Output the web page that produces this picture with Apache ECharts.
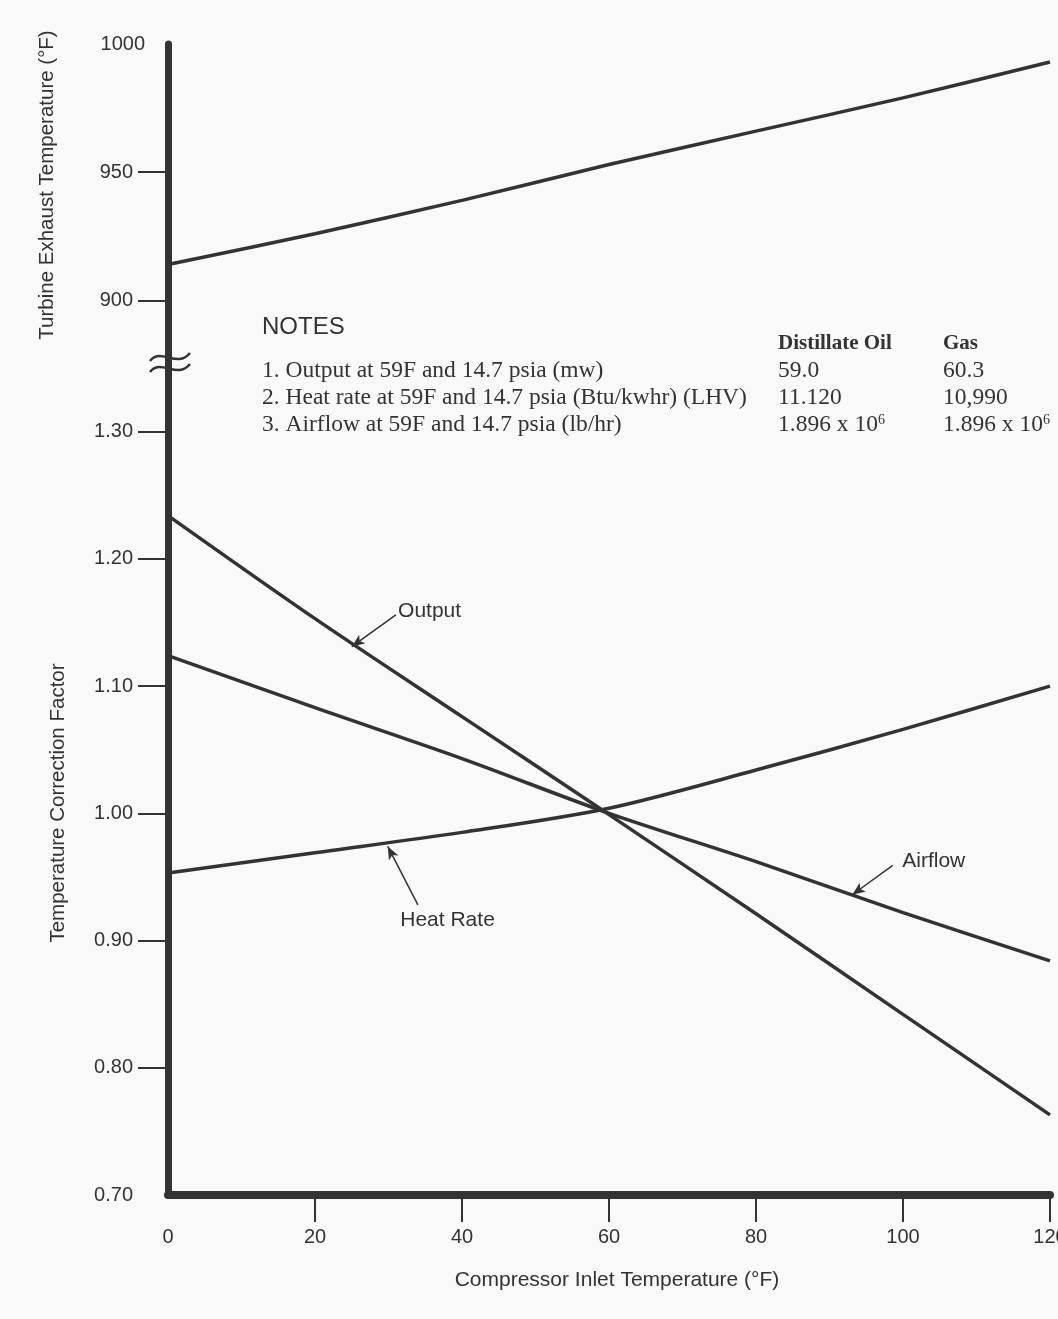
<!DOCTYPE html>
<html>
<head>
<meta charset="utf-8">
<title>Temperature correction curves</title>
<script src="https://cdn.jsdelivr.net/npm/echarts@6/dist/echarts.min.js"></script>
<style>
  html, body { margin: 0; padding: 0; background: #f9f9f9; }
  #chart { width: 1058px; height: 1319px; }
</style>
</head>
<body>
<div id="chart"></div>
<script>
// compressor inlet temperature (F)
const inletTemps = [0, 20, 40, 60, 80, 100, 120];
// upper panel: turbine exhaust temperature (F)
const exhaustTemp = [914, 926, 939, 953, 966, 979, 993];
// lower panel: temperature correction factors
const outputFactor = [1.234, 1.153, 1.076, 0.999, 0.921, 0.842, 0.763];
const airflowFactor = [1.124, 1.083, 1.043, 1.000, 0.962, 0.922, 0.884];
const heatRateFactor = [0.953, 0.969, 0.985, 1.004, 1.034, 1.066, 1.100];

// tick labels
const xTickLabels = [0, 20, 40, 60, 80, 100, 120];
const exhaustTickLabels = [900, 950, 1000];
const factorTickLabels = [0.7, 0.8, 0.9, 1.0, 1.1, 1.2, 1.3];

const ink = '#333';
const sans = '"Liberation Sans", Arial, sans-serif';
const serif = '"Liberation Serif", "Times New Roman", serif';

function pairs(ys) {
  return inletTemps.map((t, i) => [t, ys[i]]);
}

const chart = echarts.init(document.getElementById('chart'));

const lineStyle = { color: ink, width: 3.5 };
const arrowStyle = {
  symbol: ['none', 'arrow'],
  symbolSize: [8, 13],
  silent: true,
  label: { show: false },
  lineStyle: { color: ink, width: 1.5, type: 'solid' }
};
const tagStyle = {
  symbol: 'circle',
  symbolSize: 0,
  silent: true,
  label: { show: true, position: 'right', distance: 0, color: ink, fontSize: 21, fontFamily: sans }
};

// notes block
const noteLines = [
  '1. Output at 59F and 14.7 psia (mw)',
  '2. Heat rate at 59F and 14.7 psia (Btu/kwhr) (LHV)',
  '3. Airflow at 59F and 14.7 psia (lb/hr)'
];
const oilValues = ['59.0', '11.120', '1.896 x 10{s|6}'];
const gasValues = ['60.3', '10,990', '1.896 x 10{s|6}'];

function noteText(x, y, text, extra) {
  return {
    type: 'text', x: x, y: y, silent: true,
    style: Object.assign({
      text: text,
      fill: ink,
      fontSize: 23.5,
      fontFamily: serif,
      textVerticalAlign: 'middle',
      rich: {
        s: { fontSize: 14, fontFamily: serif, verticalAlign: 'top', fill: ink }
      }
    }, extra || {})
  };
}

const graphics = [
  // axis names
  {
    type: 'text', x: 47, y: 185, rotation: Math.PI / 2, silent: true,
    style: { text: 'Turbine Exhaust Temperature (°F)', fill: ink, fontSize: 20.5, fontFamily: sans,
      textAlign: 'center', textVerticalAlign: 'middle' }
  },
  {
    type: 'text', x: 58, y: 803, rotation: Math.PI / 2, silent: true,
    style: { text: 'Temperature Correction Factor', fill: ink, fontSize: 20.5, fontFamily: sans,
      textAlign: 'center', textVerticalAlign: 'middle' }
  },
  // axis break
  {
    type: 'bezierCurve', silent: true, z: 100,
    shape: { x1: 150, y1: 361, cpx1: 161, cpy1: 347, cpx2: 177, cpy2: 369, x2: 190, y2: 353 },
    style: { stroke: ink, lineWidth: 2.5, fill: null }
  },
  {
    type: 'bezierCurve', silent: true, z: 100,
    shape: { x1: 150, y1: 372, cpx1: 161, cpy1: 358, cpx2: 177, cpy2: 380, x2: 190, y2: 364 },
    style: { stroke: ink, lineWidth: 2.5, fill: null }
  },
  // notes
  noteText(262, 327, 'NOTES', { fontSize: 24, fontFamily: sans }),
  noteText(778, 344, 'Distillate Oil', { fontWeight: 'bold', fontSize: 21 }),
  noteText(943, 344, 'Gas', { fontWeight: 'bold', fontSize: 21 })
];
noteLines.forEach((t, i) => {
  graphics.push(noteText(262, 371 + i * 27, t));
  graphics.push(noteText(778, 371 + i * 27, oilValues[i]));
  graphics.push(noteText(943, 371 + i * 27, gasValues[i]));
});

const option = {
  backgroundColor: '#f9f9f9',
  animation: false,
  grid: [
    { left: 168, right: 8, top: 44, height: 323, outerBoundsMode: 'none' },
    { left: 168, right: 8, top: 368, height: 827, outerBoundsMode: 'none' }
  ],
  xAxis: [
    { gridIndex: 0, type: 'value', min: 0, max: 120, show: false },
    {
      gridIndex: 1, type: 'value', min: 0, max: 120,
      axisLine: { show: true, lineStyle: { color: ink, width: 8 } },
      axisTick: { show: true, customValues: xTickLabels.slice(1), length: 27, lineStyle: { color: ink, width: 2 } },
      axisLabel: { customValues: xTickLabels, margin: 32, fontSize: 20, color: ink, fontFamily: sans, showMaxLabel: true },
      splitLine: { show: false },
      name: 'Compressor Inlet Temperature (°F)',
      nameLocation: 'middle',
      nameGap: 75,
      nameTextStyle: { fontSize: 21, color: ink, fontFamily: sans, padding: [0, 0, 0, 16] }
    }
  ],
  yAxis: [
    {
      gridIndex: 0, type: 'value', min: 874, max: 1000,
      axisLine: { show: true, lineStyle: { color: ink, width: 7 } },
      axisTick: { show: true, customValues: [900, 950], length: 30, lineStyle: { color: ink, width: 2 } },
      axisLabel: {
        customValues: exhaustTickLabels, margin: 23,
        formatter: v => (v === 1000 ? '{e|1000}' : '{t|' + v + '}'),
        rich: {
          t: { fontSize: 20, color: ink, fontFamily: sans, padding: [0, 12, 0, 0] },
          e: { fontSize: 20, color: ink, fontFamily: sans }
        }
      },
      splitLine: { show: false }
    },
    {
      gridIndex: 1, type: 'value', min: 0.7, max: 1.35,
      axisLine: { show: true, lineStyle: { color: ink, width: 7 } },
      axisTick: { show: true, customValues: factorTickLabels.slice(1), length: 30, lineStyle: { color: ink, width: 2 } },
      axisLabel: {
        customValues: factorTickLabels, margin: 35,
        formatter: v => v.toFixed(2),
        fontSize: 20, color: ink, fontFamily: sans
      },
      splitLine: { show: false }
    }
  ],
  series: [
    {
      name: 'Exhaust Temperature', type: 'line', xAxisIndex: 0, yAxisIndex: 0,
      data: pairs(exhaustTemp), symbol: 'none', smooth: 0.3, lineStyle: lineStyle
    },
    {
      name: 'Output', type: 'line', xAxisIndex: 1, yAxisIndex: 1,
      data: pairs(outputFactor), symbol: 'none', smooth: 0.3, lineStyle: lineStyle,
      markLine: Object.assign({ data: [[{ coord: [31, 1.156] }, { coord: [25, 1.131] }]] }, arrowStyle),
      markPoint: Object.assign({ data: [{ coord: [31.3, 1.159], label: { formatter: 'Output' } }] }, tagStyle)
    },
    {
      name: 'Airflow', type: 'line', xAxisIndex: 1, yAxisIndex: 1,
      data: pairs(airflowFactor), symbol: 'none', smooth: 0.3, lineStyle: lineStyle,
      markLine: Object.assign({ data: [[{ coord: [98.6, 0.959] }, { coord: [93.1, 0.936] }]] }, arrowStyle),
      markPoint: Object.assign({ data: [{ coord: [99.9, 0.962], label: { formatter: 'Airflow' } }] }, tagStyle)
    },
    {
      name: 'Heat Rate', type: 'line', xAxisIndex: 1, yAxisIndex: 1,
      data: pairs(heatRateFactor), symbol: 'none', smooth: 0.3, lineStyle: lineStyle,
      markLine: Object.assign({ data: [[{ coord: [34, 0.928] }, { coord: [29.9, 0.974] }]] }, arrowStyle),
      markPoint: Object.assign({ data: [{ coord: [31.6, 0.916], label: { formatter: 'Heat Rate' } }] }, tagStyle)
    }
  ],
  graphic: graphics
};

chart.setOption(option);
</script>
</body>
</html>
